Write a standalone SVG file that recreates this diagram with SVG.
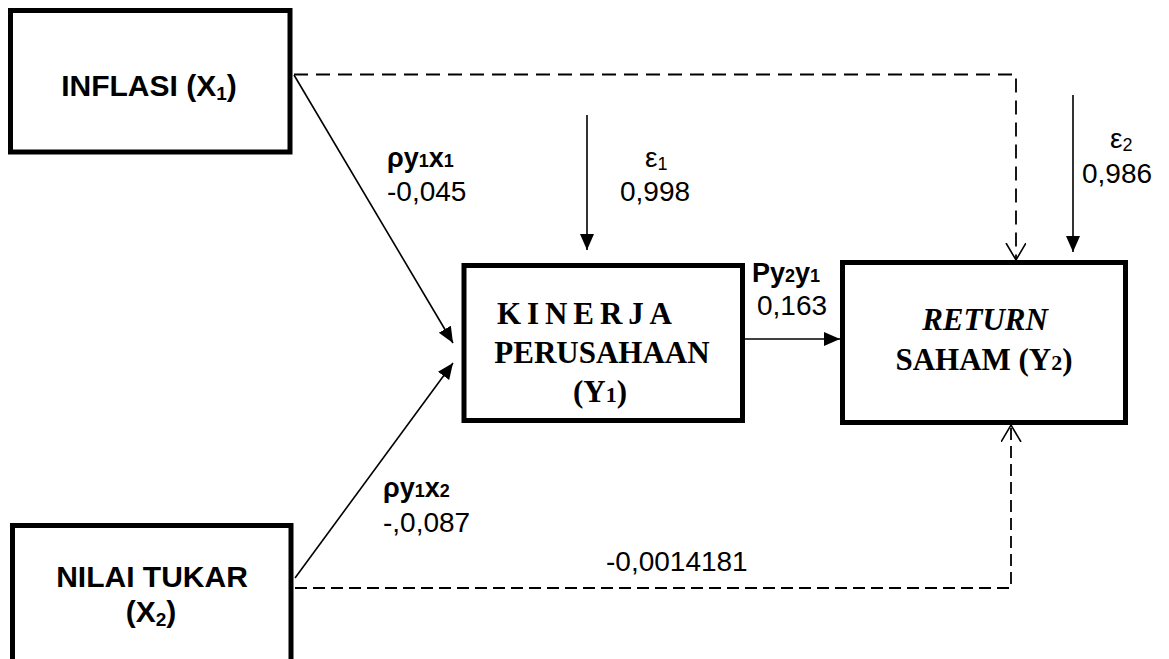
<svg xmlns="http://www.w3.org/2000/svg" width="1169" height="659" viewBox="0 0 1169 659">
<style>
.box{fill:#fff;stroke:#000;stroke-width:5}
.ln{fill:none;stroke:#000;stroke-width:1.6}
.dash{fill:none;stroke:#000;stroke-width:1.8;stroke-dasharray:14 8}
.sans{font-family:"Liberation Sans",Arial,sans-serif;fill:#000}
.serif{font-family:"Liberation Serif","Times New Roman",serif;fill:#000;font-weight:bold;font-size:31px}
.nl{font-size:30px;font-weight:bold}
.lb{font-size:28px}
.lbb{font-size:27px;font-weight:bold}
</style>
<defs>
<marker id="fill" markerUnits="userSpaceOnUse" markerWidth="18" markerHeight="16" refX="16" refY="7" orient="auto">
<path d="M0,0 L16,7 L0,14 z" fill="#000"/>
</marker>
<marker id="open" markerUnits="userSpaceOnUse" markerWidth="20" markerHeight="24" refX="17" refY="10" orient="auto">
<path d="M0,0 L17,10 L0,20" fill="none" stroke="#000" stroke-width="1.6"/>
</marker>
</defs>
<rect width="1169" height="659" fill="#fff"/>
<g id="connectors">
<polyline class="dash" points="294,74.5 1016,74.5 1016,260" marker-end="url(#open)"/>
<polyline class="dash" points="295,588 1011,588 1011,425" marker-end="url(#open)" style="stroke-dasharray:12 6"/>
<line class="ln" x1="294" y1="75" x2="453" y2="343" marker-end="url(#fill)"/>
<line class="ln" x1="295" y1="578" x2="453" y2="363" marker-end="url(#fill)"/>
<line class="ln" x1="587" y1="115" x2="587" y2="250" marker-end="url(#fill)"/>
<line class="ln" x1="1073" y1="95" x2="1073" y2="252" marker-end="url(#fill)"/>
<line class="ln" x1="745" y1="339" x2="840" y2="339" marker-end="url(#fill)"/>
</g>
<g id="inflasi">
<rect class="box" x="10.5" y="10.5" width="279.5" height="141.5"/>
<text class="sans nl" x="149" y="96" text-anchor="middle">INFLASI (X<tspan font-size="19" dy="4">1</tspan><tspan dy="-4">)</tspan></text>
</g>
<g id="nilai-tukar">
<rect class="box" x="12.5" y="525.5" width="278.5" height="150"/>
<text class="sans nl" x="152" y="587" text-anchor="middle">NILAI TUKAR</text>
<text class="sans nl" x="151" y="622" text-anchor="middle">(X<tspan font-size="19" dy="4">2</tspan><tspan dy="-4">)</tspan></text>
</g>
<g id="kinerja">
<rect class="box" x="464" y="265.5" width="278.5" height="155"/>
<text class="serif" x="497" y="324" textLength="175" lengthAdjust="spacing">KINERJA</text>
<text class="serif" x="602" y="363" text-anchor="middle">PERUSAHAAN</text>
<text class="serif" x="600" y="402" text-anchor="middle">(Y<tspan font-size="22">1</tspan>)</text>
</g>
<g id="return-saham">
<rect class="box" x="842.5" y="262.5" width="283" height="160"/>
<text class="serif" x="985" y="330" text-anchor="middle" font-style="italic">RETURN</text>
<text class="serif" x="984" y="370" text-anchor="middle">SAHAM (Y<tspan font-size="22">2</tspan>)</text>
</g>
<g id="labels">
<text class="sans lbb" x="387" y="167">ρy<tspan font-size="18">1</tspan>x<tspan font-size="18">1</tspan></text>
<text class="sans lb" x="387" y="201">-0,045</text>
<text class="sans lb" x="645" y="167">ε<tspan font-size="18" dy="3">1</tspan></text>
<text class="sans lb" x="620" y="201">0,998</text>
<text class="sans lb" x="1110" y="148">ε<tspan font-size="18" dy="3">2</tspan></text>
<text class="sans lb" x="1082" y="183">0,986</text>
<text class="sans lbb" x="752" y="282">Py<tspan font-size="18">2</tspan>y<tspan font-size="18">1</tspan></text>
<text class="sans lb" x="757" y="315">0,163</text>
<text class="sans lbb" x="383" y="497">ρy<tspan font-size="18">1</tspan>x<tspan font-size="18">2</tspan></text>
<text class="sans lb" x="383" y="532">-,0,087</text>
<text class="sans lb" x="606" y="571">-0,0014181</text>
</g>
</svg>
